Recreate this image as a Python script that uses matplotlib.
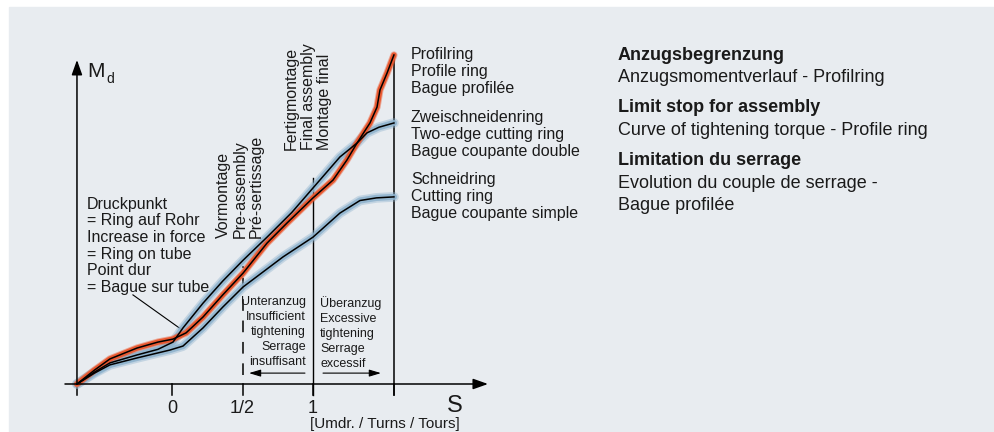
import matplotlib
matplotlib.use("Agg")
import matplotlib.pyplot as plt
from matplotlib.patches import Rectangle

plt.rcParams["font.family"] = ["Liberation Sans", "DejaVu Sans"]

# Tightening curves: S in turns, Md relative torque
profile_s = [-0.674, -0.55, -0.44, -0.248, -0.1, 0.007, 0.1, 0.22, 0.36, 0.504,
             0.674, 0.816, 1.0, 1.142, 1.241, 1.312, 1.404, 1.454, 1.475, 1.525, 1.574]
profile_md = [0.0, 0.042, 0.076, 0.109, 0.127, 0.136, 0.155, 0.203, 0.27, 0.336,
              0.427, 0.488, 0.564, 0.618, 0.679, 0.730, 0.791, 0.839, 0.891, 0.942, 0.997]

two_edge_s = [-0.674, -0.55, -0.44, -0.248, -0.1, 0.007, 0.078, 0.22, 0.36, 0.504,
              0.674, 0.85, 1.0, 1.191, 1.312, 1.383, 1.467, 1.574]
two_edge_md = [0.0, 0.036, 0.064, 0.088, 0.105, 0.127, 0.170, 0.245, 0.312, 0.375,
               0.445, 0.52, 0.594, 0.688, 0.730, 0.761, 0.778, 0.791]

cutting_s = [-0.674, -0.55, -0.44, -0.248, -0.014, 0.078, 0.22, 0.36, 0.504,
             0.787, 1.0, 1.191, 1.333, 1.45, 1.574]
cutting_md = [0.0, 0.033, 0.058, 0.079, 0.103, 0.115, 0.170, 0.233, 0.294,
              0.385, 0.445, 0.518, 0.556, 0.564, 0.567]

tick_pos = [0, 0.5, 1]
tick_labels = ["0", "1/2", "1"]

s_origin = -0.674
s_end = 1.574

curve_labels = [
    "Profilring\nProfile ring\nBague profilée",
    "Zweischneidenring\nTwo-edge cutting ring\nBague coupante double",
    "Schneidring\nCutting ring\nBague coupante simple",
]

BG = "#e8ecf0"
INK = "#1a1a1a"
HALO = "#8db2cd"
ORANGE = "#e9582f"

fig = plt.figure(figsize=(9.94, 4.32), dpi=100)
fig.patches.append(Rectangle((9 / 994, 0), 1 - 9 / 994, 425 / 432,
                             transform=fig.transFigure, color=BG, zorder=-10))
ax = fig.add_axes([0, 0, 1, 1])
ax.set_xlim(-172 / 141, 822 / 141)
ax.set_ylim(-48 / 330, 384 / 330)
ax.axis("off")


def halo_line(s, md, color, widths):
    for lw, a in widths:
        ax.plot(s, md, color=color, lw=lw, alpha=a, solid_capstyle="round",
                solid_joinstyle="round", zorder=3)
    ax.plot(s, md, color="black", lw=1.1, solid_joinstyle="round", zorder=4)


halo_line(cutting_s, cutting_md, HALO, [(7.0, 0.4), (4.5, 0.85)])
halo_line(two_edge_s, two_edge_md, HALO, [(7.0, 0.4), (4.5, 0.85)])
halo_line(profile_s, profile_md, ORANGE, [(5.2, 0.45), (3.8, 1.0)])

# axes with arrow heads
axis_arrow = dict(arrowstyle="-|>,head_length=0.45,head_width=0.16",
                  mutation_scale=20, lw=1.1, color="black",
                  shrinkA=0, shrinkB=0)
ax.annotate("", xy=(s_origin, 0.982), xytext=(s_origin, 0), arrowprops=axis_arrow)
ax.annotate("", xy=(2.241, 0), xytext=(-0.759, 0), arrowprops=axis_arrow)

for s in [s_origin] + tick_pos + [s_end]:
    ax.plot([s, s], [0, -0.033], color="black", lw=1.1)
for s, lab in zip(tick_pos, tick_labels):
    ax.text(s, -0.088, lab, ha="center", va="baseline", fontsize=13, color=INK)

ax.plot([1, 1], [-0.033, 0.624], color="black", lw=1.0)
ax.plot([s_end, s_end], [-0.033, profile_md[-1]], color="black", lw=1.1)
ax.plot([0.5, 0.5], [0.027, 0.358], color="#333333", lw=1.4, dashes=(6, 5))

small_arrow = dict(arrowstyle="-|>,head_length=0.5,head_width=0.15",
                   mutation_scale=14, lw=0.8, color="black",
                   shrinkA=0, shrinkB=0)
ax.annotate("", xy=(0.546, 0.033), xytext=(0.943, 0.033), arrowprops=small_arrow)
ax.annotate("", xy=(1.482, 0.033), xytext=(1.071, 0.033), arrowprops=small_arrow)

ax.text(0.95, 0.266, "Unteranzug\nInsufficient\ntightening\nSerrage\ninsuffisant",
        ha="right", va="top", multialignment="right", fontsize=9,
        linespacing=1.33, color=INK)
ax.text(1.05, 0.266, "Überanzug\nExcessive\ntightening\nSerrage\nexcessif",
        ha="left", va="top", multialignment="left", fontsize=9,
        linespacing=1.33, color=INK)

# rotated phase labels
ax.text(0.482, 0.442, "Vormontage\nPre-assembly\nPré-sertissage", rotation=90,
        ha="center", va="bottom", multialignment="left", fontsize=11.5,
        linespacing=1.14, color=INK)
ax.text(0.965, 0.709, "Fertigmontage\nFinal assembly\nMontage final", rotation=90,
        ha="center", va="bottom", multialignment="left", fontsize=11.5,
        linespacing=1.14, color=INK)

ax.text(-0.603, 0.567,
        "Druckpunkt\n= Ring auf Rohr\nIncrease in force\n= Ring on tube\n"
        "Point dur\n= Bague sur tube",
        ha="left", va="top", fontsize=11.5, linespacing=1.13, color=INK)
ax.plot([-0.277, 0.071], [0.270, 0.164], color="black", lw=0.8)

for md, lab in zip([1.021, 0.830, 0.642], curve_labels):
    ax.text(1.695, md, lab, ha="left", va="top", fontsize=11.5,
            linespacing=1.16, color=INK)

ax.text(-0.603, 0.930, "M", ha="left", va="baseline", fontsize=15, color=INK)
ax.text(-0.468, 0.912, "d", ha="left", va="baseline", fontsize=10, color=INK)
ax.text(2.007, -0.085, "S", ha="center", va="baseline", fontsize=17, color=INK)
ax.text((310 - 172) / 141, -0.133, "[Umdr. / Turns / Tours]", ha="left",
        va="baseline", fontsize=11, color=INK)

# description block
desc = [
    ("Anzugsbegrenzung", "bold", 60),
    ("Anzugsmomentverlauf - Profilring", "normal", 82),
    ("Limit stop for assembly", "bold", 112),
    ("Curve of tightening torque - Profile ring", "normal", 135),
    ("Limitation du serrage", "bold", 165),
    ("Evolution du couple de serrage -", "normal", 188),
    ("Bague profilée", "normal", 210),
]
for txt, weight, base in desc:
    fig.text(618 / 994, 1 - base / 432, txt, ha="left", va="baseline",
             fontsize=13, fontweight=weight, color=INK)

fig.savefig("out.png", dpi=100)
